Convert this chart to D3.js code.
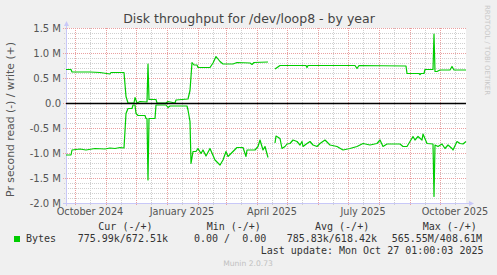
<!DOCTYPE html>
<html>
<head>
<meta charset="utf-8">
<script src="https://cdn.jsdelivr.net/npm/d3@7"></script>
<style>
  body { margin: 0; background: #f0f0f0; }
  svg { display: block; }
  text { font-family: "DejaVu Sans", sans-serif; }
  .mono { font-family: "DejaVu Sans Mono", monospace; white-space: pre; }
</style>
</head>
<body>
<div id="chart"></div>
<script>
// write (+), bytes per second in M
const writeDates = [
  '2024-09-22', '2024-09-27', '2024-09-28', '2024-10-16', '2024-10-26',
  '2024-11-05', '2024-11-06', '2024-11-18', '2024-11-19', '2024-11-21', '2024-11-23', '2024-11-29', '2024-11-30',
  '2024-12-02', '2024-12-05', '2024-12-12', '2024-12-13', '2024-12-14', '2024-12-21', '2024-12-22', '2024-12-31',
  '2025-01-02', '2025-01-09', '2025-01-10', '2025-01-22', '2025-01-24', '2025-01-26', '2025-01-28', '2025-01-31',
  '2025-02-01', '2025-02-13', '2025-02-16', '2025-02-19', '2025-02-23', '2025-02-26',
  '2025-03-08', '2025-03-12', '2025-03-25', '2025-03-27', '2025-03-29',
  '2025-04-12', '2025-04-15', '2025-04-19', '2025-04-24',
  '2025-05-20', '2025-05-21', '2025-05-22',
  '2025-07-08', '2025-07-10', '2025-07-12',
  '2025-08-28', '2025-08-29',
  '2025-09-10', '2025-09-11', '2025-09-12', '2025-09-15', '2025-09-16', '2025-09-24', '2025-09-25', '2025-09-26', '2025-09-28',
  '2025-10-01', '2025-10-11', '2025-10-13', '2025-10-15', '2025-10-27',
];
const writeValues = [
  0.67, 0.67, 0.62, 0.62, 0.61,
  0.58, 0.61, 0.61, 0.61, 0.13, 0.0, 0.0, 0.11,
  0.0, 0.03, 0.02, 0.78, 0.07, 0.07, 0.0, 0.0,
  0.03, 0.0, 0.06, 0.08, 0.25, 0.81, 0.76, 0.76,
  0.71, 0.71, 0.80, 0.93, 0.83, 0.78,
  0.78, 0.81, 0.80, 0.77, 0.81,
  0.82, null, 0.68, 0.75,
  0.75, 0.71, 0.75,
  0.75, 0.69, 0.75,
  0.74, 0.59,
  0.59, 0.57, 0.59, 0.59, 0.67, 0.67, 1.38, 0.63, 0.63,
  0.66, 0.66, 0.73, 0.66, 0.66,
];

// read (-), bytes per second in M
const readDates = [
  '2024-09-22', '2024-09-27', '2024-09-28', '2024-10-06', '2024-10-12', '2024-10-21', '2024-10-31',
  '2024-11-05', '2024-11-10', '2024-11-15', '2024-11-19', '2024-11-21', '2024-11-23', '2024-11-27', '2024-11-28', '2024-11-30',
  '2024-12-01', '2024-12-03', '2024-12-10', '2024-12-11', '2024-12-12', '2024-12-13', '2024-12-14', '2024-12-20', '2024-12-21', '2024-12-31',
  '2025-01-02', '2025-01-04', '2025-01-21', '2025-01-22', '2025-01-24', '2025-01-25', '2025-01-27', '2025-01-30',
  '2025-02-01', '2025-02-04', '2025-02-06', '2025-02-09', '2025-02-13', '2025-02-18', '2025-02-23', '2025-02-26',
  '2025-03-01', '2025-03-03', '2025-03-08', '2025-03-12', '2025-03-18', '2025-03-21', '2025-03-22', '2025-03-30',
  '2025-04-02', '2025-04-04', '2025-04-07', '2025-04-09', '2025-04-12', '2025-04-15', '2025-04-19', '2025-04-20', '2025-04-24', '2025-04-26', '2025-04-29',
  '2025-05-01', '2025-05-04', '2025-05-07', '2025-05-11', '2025-05-14', '2025-05-16', '2025-05-17', '2025-05-21', '2025-05-24', '2025-05-27', '2025-05-31',
  '2025-06-03', '2025-06-08', '2025-06-13', '2025-06-20', '2025-06-26',
  '2025-07-03', '2025-07-10', '2025-07-16', '2025-07-23', '2025-07-30',
  '2025-08-02', '2025-08-05', '2025-08-09', '2025-08-22', '2025-08-25', '2025-08-29',
  '2025-09-01', '2025-09-04', '2025-09-06', '2025-09-09', '2025-09-13', '2025-09-14', '2025-09-18', '2025-09-24', '2025-09-25', '2025-09-26', '2025-09-29',
  '2025-10-03', '2025-10-06', '2025-10-09', '2025-10-13', '2025-10-14', '2025-10-18', '2025-10-21', '2025-10-24', '2025-10-27',
];
const readValues = [
  1.04, 1.04, 0.94, 0.92, 0.94, 0.91, 0.92,
  0.90, 0.91, 0.89, 0.90, 0.21, 0.11, 0.11, 0.04, 0.04,
  0.21, 0.25, 0.25, 0.31, 0.31, 1.54, 0.31, 0.31, 0.04, 0.04,
  0.09, 0.06, 0.06, 0.14, 0.37, 1.21, 0.97, 0.97,
  0.91, 1.01, 0.94, 1.06, 0.91, 1.14, 1.24, 1.14,
  0.97, 1.07, 0.97, 0.89, 0.89, 1.07, 0.94, 0.94,
  0.87, 0.74, 0.94, 0.87, 1.09, null, 0.80, 0.66, 0.71, 0.91, 0.87,
  0.82, 0.81, 0.74, 0.77, 0.84, 0.77, 0.87, 0.81, 0.77, 0.84, 0.87,
  0.81, 0.74, 0.84, 0.87, 0.94,
  0.91, 0.87, 0.81, 0.84, 0.81,
  0.74, 0.87, 0.82, 0.82, 0.87, 0.87,
  0.77, 0.67, 0.74, 0.67, 0.74, 0.62, 0.81, 0.82, 1.87, 0.84, 0.87,
  0.82, 0.91, 0.84, 0.91, 0.94, 0.77, 0.81, 0.82, 0.77,
];

const legendHeads = ['Cur (-/+)', 'Min (-/+)', 'Avg (-/+)', 'Max (-/+)'];
const legendValues = ['775.99k/672.51k', '0.00 /  0.00', '785.83k/618.42k', '565.55M/408.61M'];
const lastUpdate = 'Last update: Mon Oct 27 01:00:03 2025';

const width = 497;
const height = 275;
const plotLeft = 66, plotRight = 466, plotTop = 28, plotBottom = 203;

const parse = d3.utcParse('%Y-%m-%d');
const start = parse('2024-09-22');
const end = parse('2025-10-27');

const x = d3.scaleUtc().domain([start, end]).range([plotLeft, plotRight]);
const y = d3.scaleLinear().domain([-2.0, 1.5]).range([plotBottom, plotTop]);

const svg = d3.select('#chart').append('svg')
  .attr('width', width)
  .attr('height', height);

svg.append('rect')
  .attr('x', plotLeft).attr('y', plotTop)
  .attr('width', plotRight - plotLeft).attr('height', plotBottom - plotTop)
  .attr('fill', '#ffffff');

const px = v => Math.round(v) + 0.5;

// grid
const yMinor = y.ticks(35);
const yMajor = y.ticks(7);
const months = d3.utcMonth.range(start, end);
const mids = months.map(m => d3.utcDay.offset(m, 15)).filter(d => d <= end);

const grid = svg.append('g').attr('fill', 'none').attr('stroke-width', 1);

grid.selectAll('.hmin').data(yMinor.filter(v => !yMajor.some(m => Math.abs(m - v) < 1e-9)))
  .enter().append('line')
  .attr('x1', plotLeft - 2).attr('x2', plotRight)
  .attr('y1', d => px(y(d))).attr('y2', d => px(y(d)))
  .attr('stroke', '#cfcfcf').attr('stroke-dasharray', '1,1');

grid.selectAll('.vmin').data(mids)
  .enter().append('line')
  .attr('x1', d => px(x(d))).attr('x2', d => px(x(d)))
  .attr('y1', plotTop).attr('y2', plotBottom + 2)
  .attr('stroke', '#cfcfcf').attr('stroke-dasharray', '1,1');

grid.selectAll('.hmaj').data(yMajor)
  .enter().append('line')
  .attr('x1', plotLeft - 3).attr('x2', plotRight)
  .attr('y1', d => px(y(d))).attr('y2', d => px(y(d)))
  .attr('stroke', '#eaa0a0').attr('stroke-dasharray', '1,1');

grid.selectAll('.vmaj').data(months)
  .enter().append('line')
  .attr('x1', d => px(x(d))).attr('x2', d => px(x(d)))
  .attr('y1', plotTop).attr('y2', plotBottom + 3)
  .attr('stroke', '#eaa0a0').attr('stroke-dasharray', '1,1');

// axes
const axisColor = '#c8c8f8';
svg.append('line')
  .attr('x1', plotLeft - 3).attr('x2', plotRight + 3)
  .attr('y1', plotBottom + 0.5).attr('y2', plotBottom + 0.5)
  .attr('stroke', axisColor);
svg.append('line')
  .attr('x1', plotLeft + 0.5).attr('x2', plotLeft + 0.5)
  .attr('y1', plotBottom + 3).attr('y2', plotTop - 3)
  .attr('stroke', axisColor);
svg.append('path')
  .attr('d', `M${plotRight + 3},${plotBottom - 2} L${plotRight + 8},${plotBottom + 0.5} L${plotRight + 3},${plotBottom + 3} Z`)
  .attr('fill', axisColor);
svg.append('path')
  .attr('d', `M${plotLeft - 2},${plotTop - 2} L${plotLeft + 0.5},${plotTop - 7} L${plotLeft + 3},${plotTop - 2} Z`)
  .attr('fill', axisColor);

// tick labels
const fmtY = v => (Math.abs(v) < 1e-9 ? '0.0' : v.toFixed(1) + ' M');
svg.append('g').selectAll('text').data(yMajor).enter().append('text')
  .attr('x', 61).attr('y', d => y(d) + 3.6)
  .attr('text-anchor', 'end')
  .attr('font-size', '10px')
  .attr('fill', '#555')
  .text(fmtY);

const labelDates = d3.utcMonth.every(3).range(d3.utcMonth.ceil(start), end)
  .map(m => d3.utcDay.offset(m, 15));
svg.append('g').selectAll('text').data(labelDates).enter().append('text')
  .attr('x', d => x(d)).attr('y', 214.7)
  .attr('text-anchor', 'middle')
  .attr('font-size', '9.7px')
  .attr('fill', '#555')
  .text(d3.utcFormat('%B %Y'));

// series
const line = d3.line()
  .defined(d => d[1] !== null)
  .x(d => x(d[0]))
  .y(d => y(d[1]));

const writeData = writeDates.map((d, i) => [parse(d), writeValues[i]]);
const readData = readDates.map((d, i) => [parse(d), readValues[i] === null ? null : -readValues[i]]);

svg.append('path').datum(writeData)
  .attr('d', line).attr('fill', 'none')
  .attr('stroke', '#00cc00').attr('stroke-width', 1.2).attr('stroke-linejoin', 'round');
svg.append('path').datum(readData)
  .attr('d', line).attr('fill', 'none')
  .attr('stroke', '#00cc00').attr('stroke-width', 1.2).attr('stroke-linejoin', 'round');

svg.append('line')
  .attr('x1', plotLeft).attr('x2', plotRight)
  .attr('y1', y(0) + 0.5).attr('y2', y(0) + 0.5)
  .attr('stroke', '#000').attr('stroke-width', 1.3);

// title and labels
svg.append('text')
  .attr('x', 249).attr('y', 23)
  .attr('text-anchor', 'middle')
  .attr('font-size', '12.5px')
  .attr('fill', '#444')
  .text('Disk throughput for /dev/loop8 - by year');

svg.append('text')
  .attr('transform', `translate(14,${(plotTop + plotBottom) / 2 + 4}) rotate(-90)`)
  .attr('text-anchor', 'middle')
  .attr('font-size', '10.8px')
  .attr('fill', '#555')
  .text('Pr second read (-) / write (+)');

svg.append('text')
  .attr('transform', 'translate(485,5) rotate(90)')
  .attr('font-size', '7px')
  .attr('fill', '#c8c8c8')
  .text('RRDTOOL / TOBI OETIKER');

// legend
const headX = [98.3, 206.7, 315, 422.7];
const valX = [77.7, 194, 286.7, 391.7];
svg.append('g').selectAll('text').data(legendHeads).enter().append('text')
  .attr('class', 'mono')
  .attr('x', (d, i) => headX[i]).attr('y', 229.5)
  .attr('font-size', '10px').attr('fill', '#333')
  .text(d => d);

svg.append('rect')
  .attr('x', 14).attr('y', 236).attr('width', 6).attr('height', 6)
  .attr('fill', '#00cc00');
svg.append('text').attr('class', 'mono')
  .attr('x', 26).attr('y', 241.5)
  .attr('font-size', '10px').attr('fill', '#333')
  .text('Bytes');
svg.append('g').selectAll('text').data(legendValues).enter().append('text')
  .attr('class', 'mono')
  .attr('x', (d, i) => valX[i]).attr('y', 241.5)
  .attr('font-size', '10px').attr('fill', '#333')
  .text(d => d);

svg.append('text').attr('class', 'mono')
  .attr('x', 483.5).attr('y', 253.5)
  .attr('text-anchor', 'end')
  .attr('font-size', '10px').attr('fill', '#333')
  .text(lastUpdate);

svg.append('text')
  .attr('x', 248).attr('y', 266)
  .attr('text-anchor', 'middle')
  .attr('font-size', '7.6px').attr('fill', '#c0c0c0')
  .text('Munin 2.0.73');
</script>
</body>
</html>
